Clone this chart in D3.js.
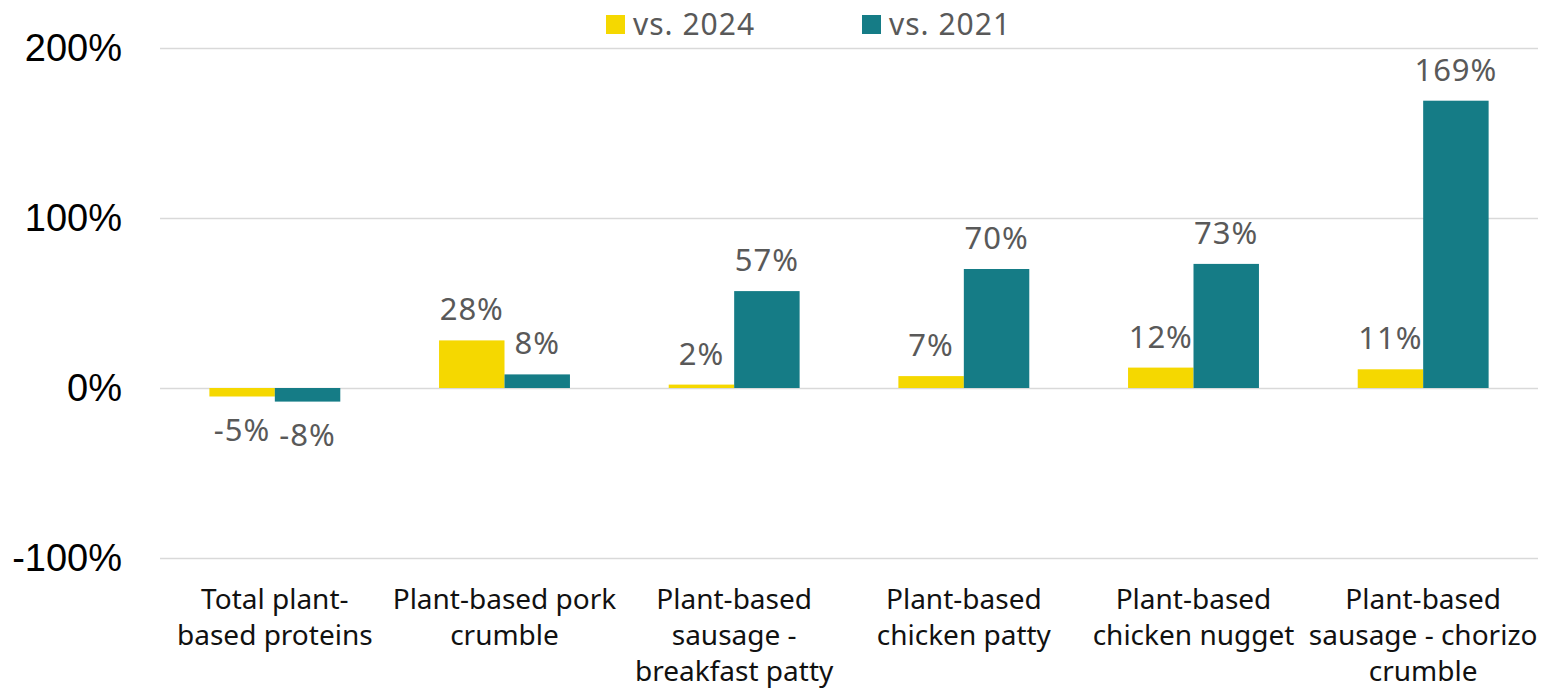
<!DOCTYPE html>
<html>
<head>
<meta charset="utf-8">
<script src="https://cdn.jsdelivr.net/npm/d3@7"></script>
<style>
  html, body { margin: 0; padding: 0; background: #fff; }
  svg { display: block; font-family: "Noto Sans", "Open Sans", sans-serif; }
</style>
</head>
<body>
<svg id="chart" width="1542" height="691"></svg>
<script>
// Growth by product, two comparison periods
const categories = [
  ["Total plant-", "based proteins"],
  ["Plant-based pork", "crumble"],
  ["Plant-based", "sausage -", "breakfast patty"],
  ["Plant-based", "chicken patty"],
  ["Plant-based", "chicken nugget"],
  ["Plant-based", "sausage - chorizo", "crumble"]
];
const seriesNames = ["vs. 2024", "vs. 2021"];
const vs2024 = [-5, 28, 2, 7, 12, 11];
const vs2021 = [-8, 8, 57, 70, 73, 169];
const yTicks = [-100, 0, 100, 200];
const colors = ["#F5D800", "#157C86"];

const W = 1542, H = 691;
const margin = { left: 160, right: 4, top: 48, bottom: 133 };

const svg = d3.select("#chart");

const x0 = d3.scaleBand()
  .domain(d3.range(categories.length))
  .range([margin.left, W - margin.right])
  .paddingInner(0.43)
  .paddingOuter(0.215);

const x1 = d3.scaleBand()
  .domain([0, 1])
  .range([0, x0.bandwidth()]);

const y = d3.scaleLinear()
  .domain([-100, 200])
  .range([H - margin.bottom, margin.top]);

// Horizontal gridlines
const yAxis = d3.axisLeft(y)
  .tickValues(yTicks)
  .tickSize(-(W - margin.left - margin.right))
  .tickPadding(38)
  .tickFormat(d => d + "%");

const gy = svg.append("g")
  .attr("transform", `translate(${margin.left},0)`)
  .call(yAxis);
gy.select(".domain").remove();
gy.selectAll(".tick line").attr("stroke", "#d9d9d9").attr("stroke-width", 1.5);
gy.selectAll(".tick text")
  .attr("fill", "#000")
  .style("font-family", "'Liberation Sans', Arial, sans-serif")
  .style("font-size", "38px");

// Bars
const data = categories.map((c, i) => ({ i, vals: [vs2024[i], vs2021[i]] }));

const groups = svg.append("g").selectAll("g")
  .data(data)
  .join("g")
  .attr("transform", d => `translate(${x0(d.i)},0)`);

groups.selectAll("rect")
  .data(d => d.vals.map((v, k) => ({ v, k })))
  .join("rect")
  .attr("x", d => x1(d.k))
  .attr("width", x1.bandwidth())
  .attr("y", d => Math.min(y(d.v), y(0)))
  .attr("height", d => Math.abs(y(d.v) - y(0)))
  .attr("fill", d => colors[d.k]);

// Value labels
groups.selectAll("text.val")
  .data(d => d.vals.map((v, k) => ({ v, k })))
  .join("text")
  .attr("class", "val")
  .attr("x", d => x1(d.k) + x1.bandwidth() / 2)
  .attr("y", d => d.v >= 0 ? y(d.v) - 20 : y(d.v) + 44)
  .attr("text-anchor", "middle")
  .attr("fill", "#595959")
  .style("font-size", "31px")
  .style("letter-spacing", "1px")
  .text(d => d.v + "%");

// Category labels
const cat = svg.append("g").selectAll("text")
  .data(categories)
  .join("text")
  .attr("x", (d, i) => x0(i) + x0.bandwidth() / 2)
  .attr("y", 609)
  .attr("text-anchor", "middle")
  .attr("fill", "#111")
  .style("font-size", "28px");
cat.selectAll("tspan")
  .data(d => d)
  .join("tspan")
  .attr("x", function () { return this.parentNode.getAttribute("x"); })
  .attr("dy", (d, j) => j === 0 ? 0 : 36)
  .text(d => d);

// Legend
const legendX = [606, 862];
const legend = svg.append("g").selectAll("g")
  .data(seriesNames)
  .join("g")
  .attr("transform", (d, i) => `translate(${legendX[i]},15)`);
legend.append("rect")
  .attr("width", 19).attr("height", 19)
  .attr("fill", (d, i) => colors[i]);
legend.append("text")
  .attr("x", 27).attr("y", 20)
  .attr("fill", "#595959")
  .style("font-size", "30px")
  .style("letter-spacing", "1px")
  .text(d => d);
</script>
</body>
</html>
